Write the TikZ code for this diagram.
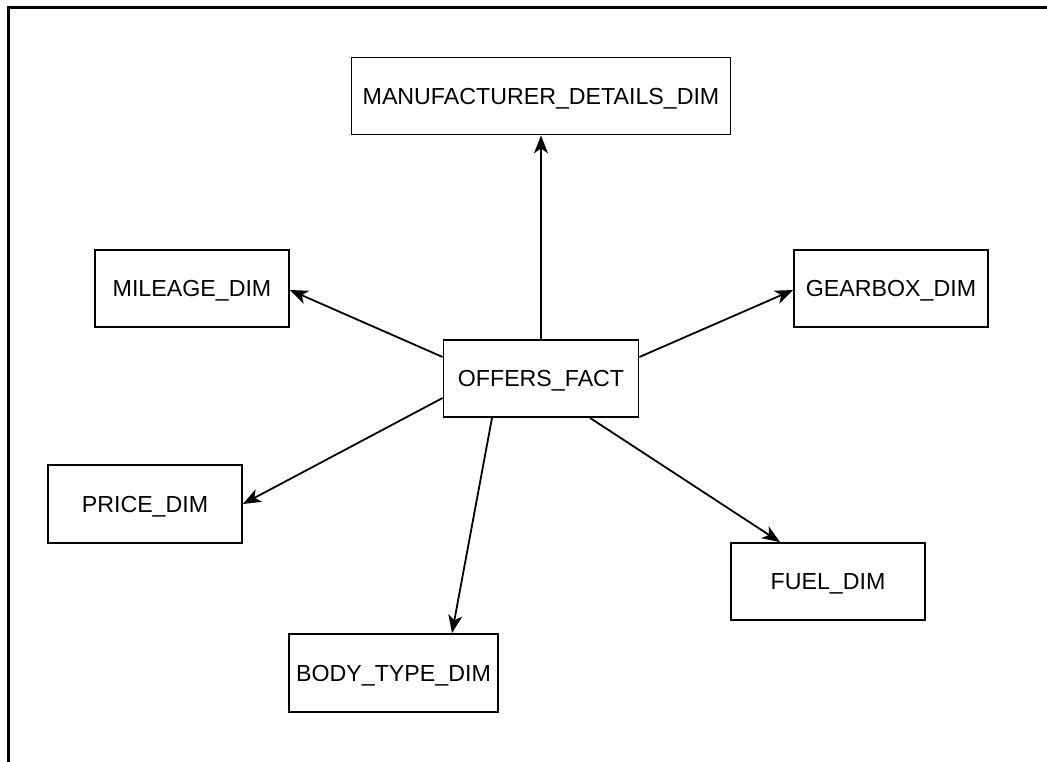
\documentclass[tikz,border=0pt]{standalone}
\usepackage{fontspec}
\setmainfont{Liberation Sans}
\usetikzlibrary{arrows.meta}
\begin{document}
\begin{tikzpicture}[x=1pt,y=-1pt,
  tbl/.style={draw, line width=1.8pt, inner sep=0pt, text depth=0pt,
    minimum height=77pt, font=\fontsize{23.2}{27}\selectfont},
  link/.style={line width=1.8pt, -{Stealth[length=18pt,width=14pt,inset=5pt]}}]
  \useasboundingbox (0,0) rectangle (1047,762);
  % open frame: top and left edges
  \coordinate (fbl) at (8.5,762);
  \coordinate (ftl) at (8.5,7.5);
  \coordinate (ftr) at (1047,7.5);
  \draw[line width=2.4pt] (fbl) -- (ftl) -- (ftr);

  % fact table and dimension tables
  \node[tbl, minimum width=195pt] (offers) at (541,378.5) {OFFERS\_FACT};
  \node[tbl, minimum width=379pt] (manu) at (541,96) {MANUFACTURER\_DETAILS\_DIM};
  \node[tbl, minimum width=194pt] (mileage) at (192,288.5) {MILEAGE\_DIM};
  \node[tbl, minimum width=194pt] (gearbox) at (891,288.5) {GEARBOX\_DIM};
  \node[tbl, minimum width=194pt, minimum height=78pt] (price) at (145,504) {PRICE\_DIM};
  \node[tbl, minimum width=194pt] (fuel) at (828,581.5) {FUEL\_DIM};
  \node[tbl, minimum width=209pt, minimum height=78pt] (body) at (393.5,673) {BODY\_TYPE\_DIM};

  % references from the fact table
  \draw[link] (offers.north) -- (manu.south);
  \draw[link] ([yshift=21.5pt]offers.west) -- ([yshift=-1.5pt]mileage.east);
  \draw[link] ([yshift=21.5pt]offers.east) -- ([yshift=-1.5pt]gearbox.west);
  \draw[link] ([yshift=-19.5pt]offers.west) -- (price.east);
  \draw[link] ([xshift=-49pt]offers.south) -- ([xshift=58.5pt]body.north);
  \draw[link] ([xshift=49pt]offers.south) -- ([xshift=-48pt]fuel.north);
\end{tikzpicture}
\end{document}
